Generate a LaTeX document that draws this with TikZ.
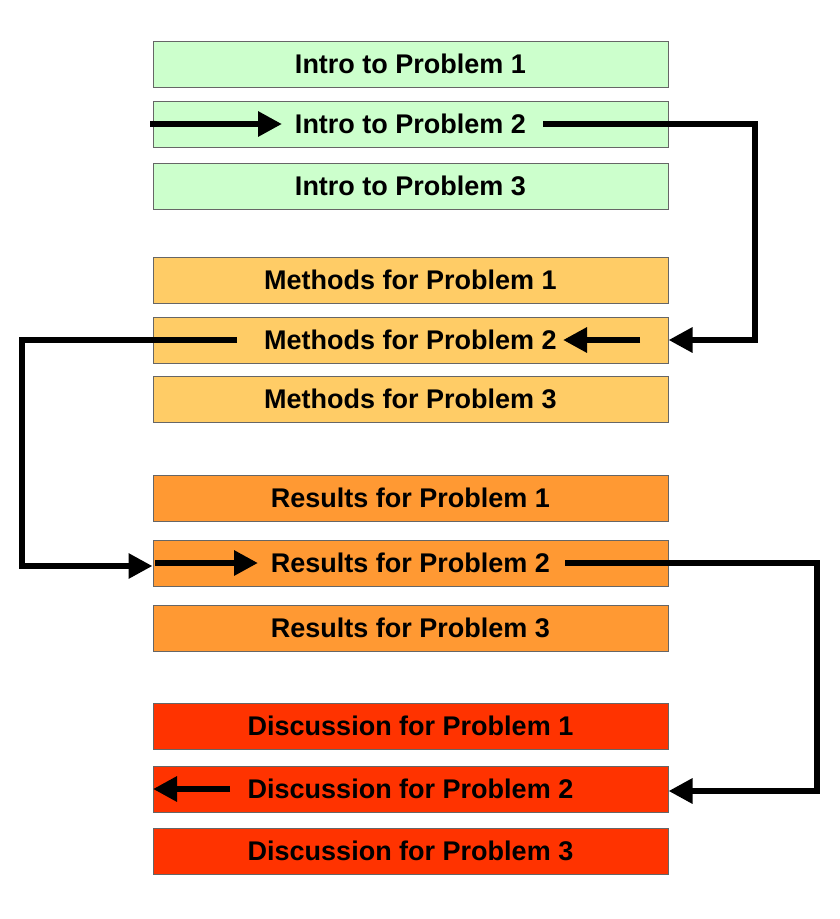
\documentclass[tikz,border=0pt]{standalone}
\usepackage{fontspec}
\setmainfont{Liberation Sans}
\usetikzlibrary{arrows.meta,positioning}
\definecolor{intro}{HTML}{CCFFCC}
\definecolor{meth}{HTML}{FFCC66}
\definecolor{res}{HTML}{FF9933}
\definecolor{disc}{HTML}{FF3300}
\tikzset{
    box/.style={draw=gray!80!black, line width=1pt, minimum width=515pt, minimum height=46pt,
        inner sep=0pt, font=\fontsize{27}{30}\selectfont\bfseries},
    flow/.style={line width=6.5pt, -{Triangle[length=24pt,width=24pt]}}
}
\begin{document}
\begin{tikzpicture}[x=1pt,y=-1pt]
\useasboundingbox (0,0) rectangle (840,919);
\node[box, fill=intro] (i1) at (410.5, 64) {Intro to Problem 1};
\node[box, fill=intro] (i2) at (410.5,124) {Intro to Problem 2};
\node[box, fill=intro] (i3) at (410.5,186) {Intro to Problem 3};
\node[box, fill=meth] (m1) at (410.5,280) {Methods for Problem 1};
\node[box, fill=meth] (m2) at (410.5,340) {Methods for Problem 2};
\node[box, fill=meth] (m3) at (410.5,399) {Methods for Problem 3};
\node[box, fill=res] (r1) at (410.5,498) {Results for Problem 1};
\node[box, fill=res] (r2) at (410.5,563) {Results for Problem 2};
\node[box, fill=res] (r3) at (410.5,628) {Results for Problem 3};
\node[box, fill=disc] (d1) at (410.5,726) {Discussion for Problem 1};
\node[box, fill=disc] (d2) at (410.5,789) {Discussion for Problem 2};
\node[box, fill=disc] (d3) at (410.5,851) {Discussion for Problem 3};

% bend points and free ends
\coordinate (a0) at (150,124);  \coordinate (a1) at (282,124);
\coordinate (b0) at (543,124);  \coordinate (b1) at (755,124);
\coordinate (b2) at (755,340);
\coordinate (c0) at (640,340);  \coordinate (c1) at (563,340);
\coordinate (e0) at (237,340);  \coordinate (e1) at (22,340);
\coordinate (e2) at (22,566);
\coordinate (f0) at (155,563);  \coordinate (f1) at (258,563);
\coordinate (g0) at (565,563);  \coordinate (g1) at (817,563);
\coordinate (g2) at (817,791);
\coordinate (h0) at (230,789);  \coordinate (h1) at (153,789);

\draw[flow] (a0) -- (a1);
\draw[flow] (b0) -- (b1) -- (b2) -- (m2.east);
\draw[flow] (c0) -- (c1);
\draw[flow] (e0) -- (e1) -- (e2) -- (r2.west |- e2);
\draw[flow] (f0) -- (f1);
\draw[flow] (g0) -- (g1) -- (g2) -- (d2.east |- g2);
\draw[flow] (h0) -- (h1);
\end{tikzpicture}
\end{document}
